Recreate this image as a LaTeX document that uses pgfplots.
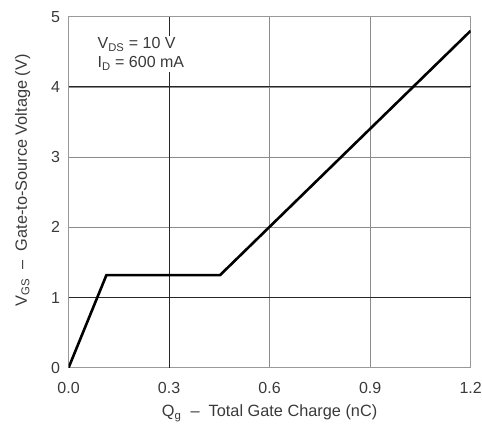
\documentclass[border=0pt]{standalone}
\usepackage{pgfplots}
\pgfplotsset{compat=1.18}
\usepackage{fontspec}
\setmainfont{Liberation Sans}
\definecolor{txt}{HTML}{3A3A3A}
\begin{document}
\begin{tikzpicture}
\begin{axis}[
  scale only axis,
  width=402pt, height=351pt,
  xmin=0, xmax=1.2, ymin=0, ymax=5,
  xtick={0,0.3,0.6,0.9,1.2},
  xticklabels={0.0,0.3,0.6,0.9,1.2},
  ytick={0,1,2,3,4,5},
  /pgf/number format/assume math mode=true,
  tick style={draw=none},
  grid=major,
  major grid style={draw=black!45, line width=0.8pt},
  extra x ticks={0.3},
  extra x tick labels={},
  extra y ticks={1,4},
  extra y tick labels={},
  extra tick style={grid=major, major grid style={draw=black!85, line width=0.9pt}},
  axis line style={draw=black!40, line width=0.9pt},
  ticklabel style={font=\fontsize{16}{18}\selectfont, text=txt},
  xticklabel style={yshift=-11pt},
  yticklabel style={xshift=-5pt},
  xlabel={Q\textsubscript{g} ~–~ Total Gate Charge (nC)},
  ylabel={V\textsubscript{GS} ~–~ Gate-to-Source Voltage (V)},
  label style={font=\fontsize{16.3}{18}\selectfont, text=txt},
  xlabel style={yshift=-4pt},
  ylabel style={yshift=14pt, xshift=12pt},
]
\addplot[black, line width=2.6pt, line join=miter] coordinates {
  (0,0) (0.113,1.32) (0.452,1.32) (1.2,4.80)
};
\node[anchor=north west, fill=white, inner sep=1.5pt, align=left, text=txt,
      font=\fontsize{16}{19}\selectfont] at (axis cs:0.082,4.73)
  {V\textsubscript{DS} = 10 V\\I\textsubscript{D} = 600 mA};
\end{axis}
\pgfresetboundingbox
\path ([shift={(-68.5pt,-62.3pt)}]current axis.south west) rectangle ([shift={(11.3pt,16.7pt)}]current axis.north east);
\end{tikzpicture}
\end{document}
